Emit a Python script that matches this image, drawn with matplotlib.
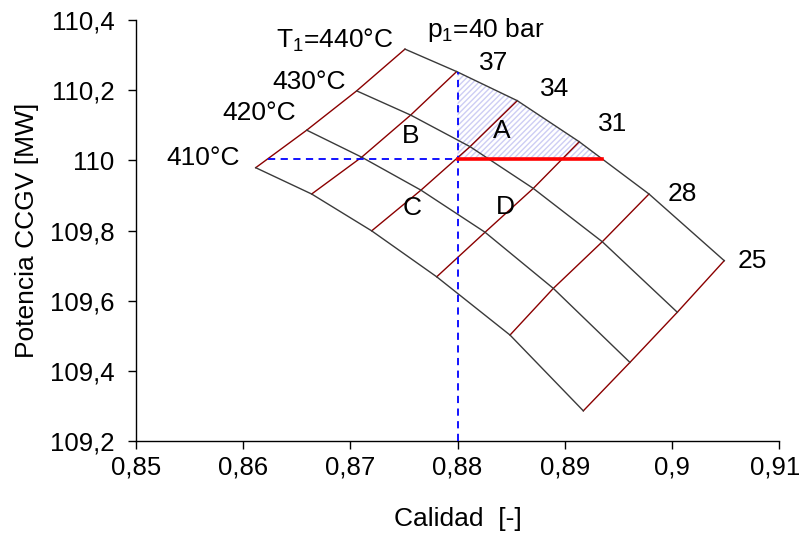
import numpy as np
import matplotlib
matplotlib.use("Agg")
import matplotlib.pyplot as plt
from matplotlib.ticker import FuncFormatter, FixedLocator
from matplotlib.transforms import ScaledTranslation

plt.rcParams['font.family'] = ['Liberation Sans', 'DejaVu Sans']
plt.rcParams['mathtext.fontset'] = 'custom'
plt.rcParams['mathtext.rm'] = 'Liberation Sans'
plt.rcParams['mathtext.it'] = 'Liberation Sans'

# Carpet plot: steam quality vs CCGV power for live-steam temperature and pressure
temps = [440, 430, 420, 410]          # °C
pressures = [40, 37, 34, 31, 28, 25]  # bar

# quality [-] per temperature (rows) and pressure (columns)
calidad = [
    [0.87510, 0.87992, 0.88558, 0.89136, 0.89787, 0.90489],
    [0.87059, 0.87563, 0.88117, 0.88707, 0.89351, 0.90051],
    [0.86593, 0.87106, 0.87659, 0.88257, 0.88894, 0.89609],
    [0.86117, 0.86639, 0.87199, 0.87806, 0.88490, 0.89174],
]
# power [MW]
potencia = [
    [110.317, 110.253, 110.170, 110.053, 109.904, 109.714],
    [110.198, 110.129, 110.039, 109.920, 109.768, 109.567],
    [110.086, 110.009, 109.915, 109.795, 109.635, 109.424],
    [109.979, 109.904, 109.799, 109.668, 109.502, 109.286],
]

# operating point
x_op = 0.88
y_op = 110.005

xticks = [0.85, 0.86, 0.87, 0.88, 0.89, 0.90, 0.91]
yticks = [109.2, 109.4, 109.6, 109.8, 110.0, 110.2, 110.4]

X = np.array(calidad)
Y = np.array(potencia)

fig = plt.figure(figsize=(8.02, 5.35), dpi=100)
ax = fig.add_axes([136 / 802, 1 - 441 / 535, (779 - 136) / 802, (441 - 20) / 535])

# constant-pressure lines
for j in range(len(pressures)):
    ax.plot(X[:, j], Y[:, j], color='#8b0000', lw=1.0, zorder=3)
# constant-temperature lines
for i in range(len(temps)):
    ax.plot(X[i], Y[i], color='#3a3a3a', lw=1.0, zorder=3)

# 440 °C curve crossings with the operating point
top_x, top_y = X[0], Y[0]
y_top_at_op = np.interp(x_op, top_x, top_y)
x_top_at_op = np.interp(y_op, top_y[::-1], top_x[::-1])
x_left_at_op = np.interp(y_op, Y[::-1, 0], X[::-1, 0])

# shaded zone between operating point and the 440 °C curve
inside = (top_x > x_op) & (top_x < x_top_at_op)
px = [x_op, x_op] + list(top_x[inside]) + [x_top_at_op]
py = [y_op, y_top_at_op] + list(top_y[inside]) + [y_op]
ax.fill(px, py, facecolor='none', edgecolor='#cdcdf4', hatch='//////',
        lw=0, zorder=1)

# dashed guides
ax.plot([x_left_at_op, x_op], [y_op, y_op], color='#0000ff', lw=1.3,
        ls=(0, (4, 3)), zorder=4)
ax.plot([x_op, x_op], [yticks[0], y_top_at_op], color='#0000ff', lw=1.3,
        ls=(0, (4, 3)), zorder=4)
# quality range at constant power
ax.plot([x_op, x_top_at_op], [y_op, y_op], color='#ff0000', lw=2.6, zorder=5)

ax.set_xlim(xticks[0], xticks[-1])
ax.set_ylim(yticks[0], yticks[-1])
ax.xaxis.set_major_locator(FixedLocator(xticks))
ax.yaxis.set_major_locator(FixedLocator(yticks))


def coma(v, pos):
    s = f"{v:.2f}".rstrip('0').rstrip('.')
    return s.replace('.', ',')


fs = 19
ax.xaxis.set_major_formatter(FuncFormatter(coma))
ax.yaxis.set_major_formatter(FuncFormatter(coma))
for s in ('top', 'right'):
    ax.spines[s].set_visible(False)
for s in ('left', 'bottom'):
    ax.spines[s].set_linewidth(1.0)
ax.tick_params(direction='out', length=5.5, width=1.0, labelsize=18.5)
ax.tick_params(axis='x', pad=5)
ax.tick_params(axis='y', pad=10)
ax.set_xlabel('Calidad  [-]', fontsize=fs, labelpad=20)
ax.set_ylabel('Potencia CCGV [MW]', fontsize=fs, labelpad=8)

# temperature labels
ax.text(0.87398, 110.343, r'T$_{1}$=440°C', fontsize=fs, ha='right', va='center')
ax.text(0.86960, 110.224, '430°C', fontsize=fs, ha='right', va='center')
ax.text(0.86493, 110.134, '420°C', fontsize=fs, ha='right', va='center')
ax.text(0.85970, 110.007, '410°C', fontsize=fs, ha='right', va='center')
# pressure labels
ax.text(0.87715, 110.372, r'p$_{1}$=40 bar', fontsize=fs, ha='left', va='center')
p_lbl = [(0.8820, 110.278), (0.8877, 110.203), (0.8931, 110.103),
         (0.8996, 109.904), (0.9061, 109.714)]
for (lx, ly), p in zip(p_lbl, pressures[1:]):
    ax.text(lx, ly, str(p), fontsize=fs, ha='left', va='center')
# zone labels
for lab, lx, ly in [('A', 0.88417, 110.085), ('B', 0.87558, 110.069),
                    ('C', 0.87577, 109.865), ('D', 0.88445, 109.868)]:
    ax.text(lx, ly, lab, fontsize=fs, ha='center', va='center')

# keep the last x tick label inside the canvas
fig.canvas.draw()
last = ax.get_xticklabels()[-1]
last.set_transform(last.get_transform()
                   + ScaledTranslation(-4 / 100, 0, fig.dpi_scale_trans))

fig.savefig('out.png', dpi=100)
